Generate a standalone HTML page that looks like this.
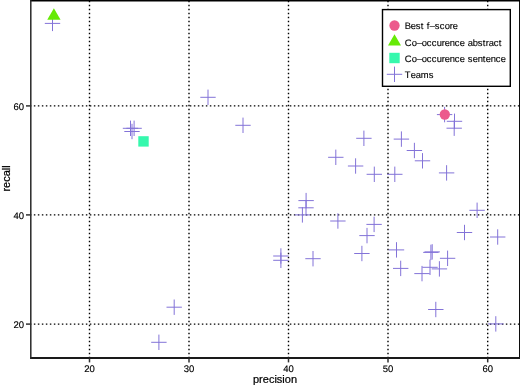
<!DOCTYPE html>
<html><head><meta charset="utf-8"><style>
html,body{margin:0;padding:0;background:#fff;overflow:hidden}
svg{display:block}
</style></head><body>
<svg width="520" height="386" viewBox="0 0 520 386">
<rect width="520" height="386" fill="#fff"/>
<g stroke="#000" stroke-width="1.4" stroke-dasharray="1.5 2.5" fill="none">
<path d="M89.5 0.3V357.7" stroke-dashoffset="3.45"/>
<path d="M189.0 0.3V357.7" stroke-dashoffset="3.45"/>
<path d="M288.5 0.3V357.7" stroke-dashoffset="3.45"/>
<path d="M388.0 0.3V357.7" stroke-dashoffset="3.45"/>
<path d="M487.7 0.3V357.7" stroke-dashoffset="3.45"/>
<path d="M30.8 105.9H519.5" stroke-dashoffset="0.95"/>
<path d="M30.8 214.9H519.5" stroke-dashoffset="0.95"/>
<path d="M30.8 324.1H519.5" stroke-dashoffset="0.95"/>
</g>
<g stroke="#8373d8" stroke-width="1.0" fill="none">
<path d="M44.80 23.40H60.20M52.50 15.70V31.10"/>
<path d="M122.80 128.30H138.20M130.50 120.60V136.00"/>
<path d="M126.40 128.30H141.80M134.10 120.60V136.00"/>
<path d="M124.30 131.50H139.70M132.00 123.80V139.20"/>
<path d="M200.30 97.30H215.70M208.00 89.60V105.00"/>
<path d="M235.30 125.30H250.70M243.00 117.60V133.00"/>
<path d="M328.10 157.30H343.50M335.80 149.60V165.00"/>
<path d="M356.20 138.30H371.60M363.90 130.60V146.00"/>
<path d="M347.90 166.00H363.30M355.60 158.30V173.70"/>
<path d="M366.60 174.30H382.00M374.30 166.60V182.00"/>
<path d="M387.10 174.30H402.50M394.80 166.60V182.00"/>
<path d="M393.70 139.10H409.10M401.40 131.40V146.80"/>
<path d="M406.70 150.50H422.10M414.40 142.80V158.20"/>
<path d="M414.80 160.80H430.20M422.50 153.10V168.50"/>
<path d="M436.90 114.60H452.30M444.60 106.90V122.30"/>
<path d="M446.80 121.30H462.20M454.50 113.60V129.00"/>
<path d="M446.50 128.20H461.90M454.20 120.50V135.90"/>
<path d="M438.90 172.90H454.30M446.60 165.20V180.60"/>
<path d="M298.40 200.60H313.80M306.10 192.90V208.30"/>
<path d="M298.30 207.80H313.70M306.00 200.10V215.50"/>
<path d="M294.70 214.90H310.10M302.40 207.20V222.60"/>
<path d="M330.20 221.00H345.60M337.90 213.30V228.70"/>
<path d="M366.40 224.40H381.80M374.10 216.70V232.10"/>
<path d="M359.30 235.60H374.70M367.00 227.90V243.30"/>
<path d="M354.20 253.50H369.60M361.90 245.80V261.20"/>
<path d="M273.20 256.00H288.60M280.90 248.30V263.70"/>
<path d="M273.20 260.30H288.60M280.90 252.60V268.00"/>
<path d="M305.30 258.70H320.70M313.00 251.00V266.40"/>
<path d="M469.40 210.30H484.80M477.10 202.60V218.00"/>
<path d="M456.80 232.50H472.20M464.50 224.80V240.20"/>
<path d="M490.00 237.00H505.40M497.70 229.30V244.70"/>
<path d="M388.80 249.90H404.20M396.50 242.20V257.60"/>
<path d="M393.00 268.40H408.40M400.70 260.70V276.10"/>
<path d="M424.50 251.90H439.90M432.20 244.20V259.60"/>
<path d="M423.20 252.40H438.60M430.90 244.70V260.10"/>
<path d="M414.30 273.60H429.70M422.00 265.90V281.30"/>
<path d="M422.30 267.30H437.70M430.00 259.60V275.00"/>
<path d="M431.70 268.90H447.10M439.40 261.20V276.60"/>
<path d="M439.90 258.30H455.30M447.60 250.60V266.00"/>
<path d="M428.10 309.50H443.50M435.80 301.80V317.20"/>
<path d="M488.10 323.90H503.50M495.80 316.20V331.60"/>
<path d="M166.50 307.20H181.90M174.20 299.50V314.90"/>
<path d="M151.20 342.30H166.60M158.90 334.60V350.00"/>
</g>
<g fill="#66ea06"><polygon points="53.90,8.25 60.57,19.80 47.23,19.80"/></g>
<rect x="138.30" y="136.20" width="10.4" height="10.4" fill="#36f8ad"/>
<circle cx="444.8" cy="114.5" r="5.15" fill="#ec5a8c"/>
<path d="M30.05 0.6H520" stroke="#000" stroke-width="1.6"/>
<path d="M519.8 0V359" stroke="#000" stroke-width="1.5"/>
<path d="M30.05 358H520" stroke="#1a1a1a" stroke-width="1.8"/>
<path d="M30.8 0V358.9" stroke="#282828" stroke-width="1.5"/>
<g stroke="#303030" stroke-width="1.5">
<path d="M89.5 358.5V362.4"/>
<path d="M189.0 358.5V362.4"/>
<path d="M288.5 358.5V362.4"/>
<path d="M388.0 358.5V362.4"/>
<path d="M487.7 358.5V362.4"/>
<path d="M30.8 105.9H26.0"/>
<path d="M30.8 214.9H26.0"/>
<path d="M30.8 324.1H26.0"/>
</g>
<g font-family="Liberation Sans, Arial, sans-serif" font-size="9.5" text-rendering="geometricPrecision" fill="#000" stroke="#000" stroke-width="0.15">
<text x="89.5" y="372" text-anchor="middle">20</text>
<text x="189.0" y="372" text-anchor="middle">30</text>
<text x="288.5" y="372" text-anchor="middle">40</text>
<text x="388.0" y="372" text-anchor="middle">50</text>
<text x="487.7" y="372" text-anchor="middle">60</text>
<text x="24" y="109.5" text-anchor="end">60</text>
<text x="24" y="218.5" text-anchor="end">40</text>
<text x="24" y="327.7" text-anchor="end">20</text>
</g>
<text x="275" y="382.5" text-anchor="middle" font-family="Liberation Sans, Arial, sans-serif" font-size="11" stroke="#000" stroke-width="0.22">precision</text>
<text transform="translate(9.8 178.4) rotate(-90)" text-anchor="middle" font-family="Liberation Sans, Arial, sans-serif" font-size="11" stroke="#000" stroke-width="0.22">recall</text>
<rect x="382.5" y="9.6" width="127.8" height="76.7" fill="#fff" stroke="#000" stroke-width="1.4"/>
<circle cx="394.5" cy="25.5" r="5.15" fill="#ec5a8c"/>
<g fill="#66ea06"><polygon points="394.50,34.30 401.00,45.55 388.00,45.55"/></g>
<rect x="389.30" y="52.80" width="10.4" height="10.4" fill="#36f8ad"/>
<g stroke="#8373d8" stroke-width="1.0" fill="none"><path d="M386.80 74.30H402.20M394.50 66.60V82.00"/></g>
<g font-family="Liberation Sans, Arial, sans-serif" font-size="9.4" text-rendering="geometricPrecision" fill="#000" stroke="#000" stroke-width="0.12">
<text x="404.7 410.7 415.7 420.7 423.7 426.7 429.7 434.7 439.7 444.7 449.7 452.7" y="29.4">Best f–score</text>
<text x="404.7 411.7 416.7 421.7 426.7 431.7 436.7 441.7 444.7 449.7 454.7 459.7 464.7 467.7 472.7 477.7 482.7 485.7 488.7 493.7 498.7" y="45.6">Co–occurence abstract</text>
<text x="404.7 411.7 416.7 421.7 426.7 431.7 436.7 441.7 444.7 449.7 454.7 459.7 464.7 467.7 472.7 477.7 482.7 485.7 490.7 495.7 500.7" y="61.6">Co–occurence sentence</text>
<text x="404.7 410.7 415.7 420.7 428.7" y="77.6">Teams</text>
</g>
</svg>
</body></html>
